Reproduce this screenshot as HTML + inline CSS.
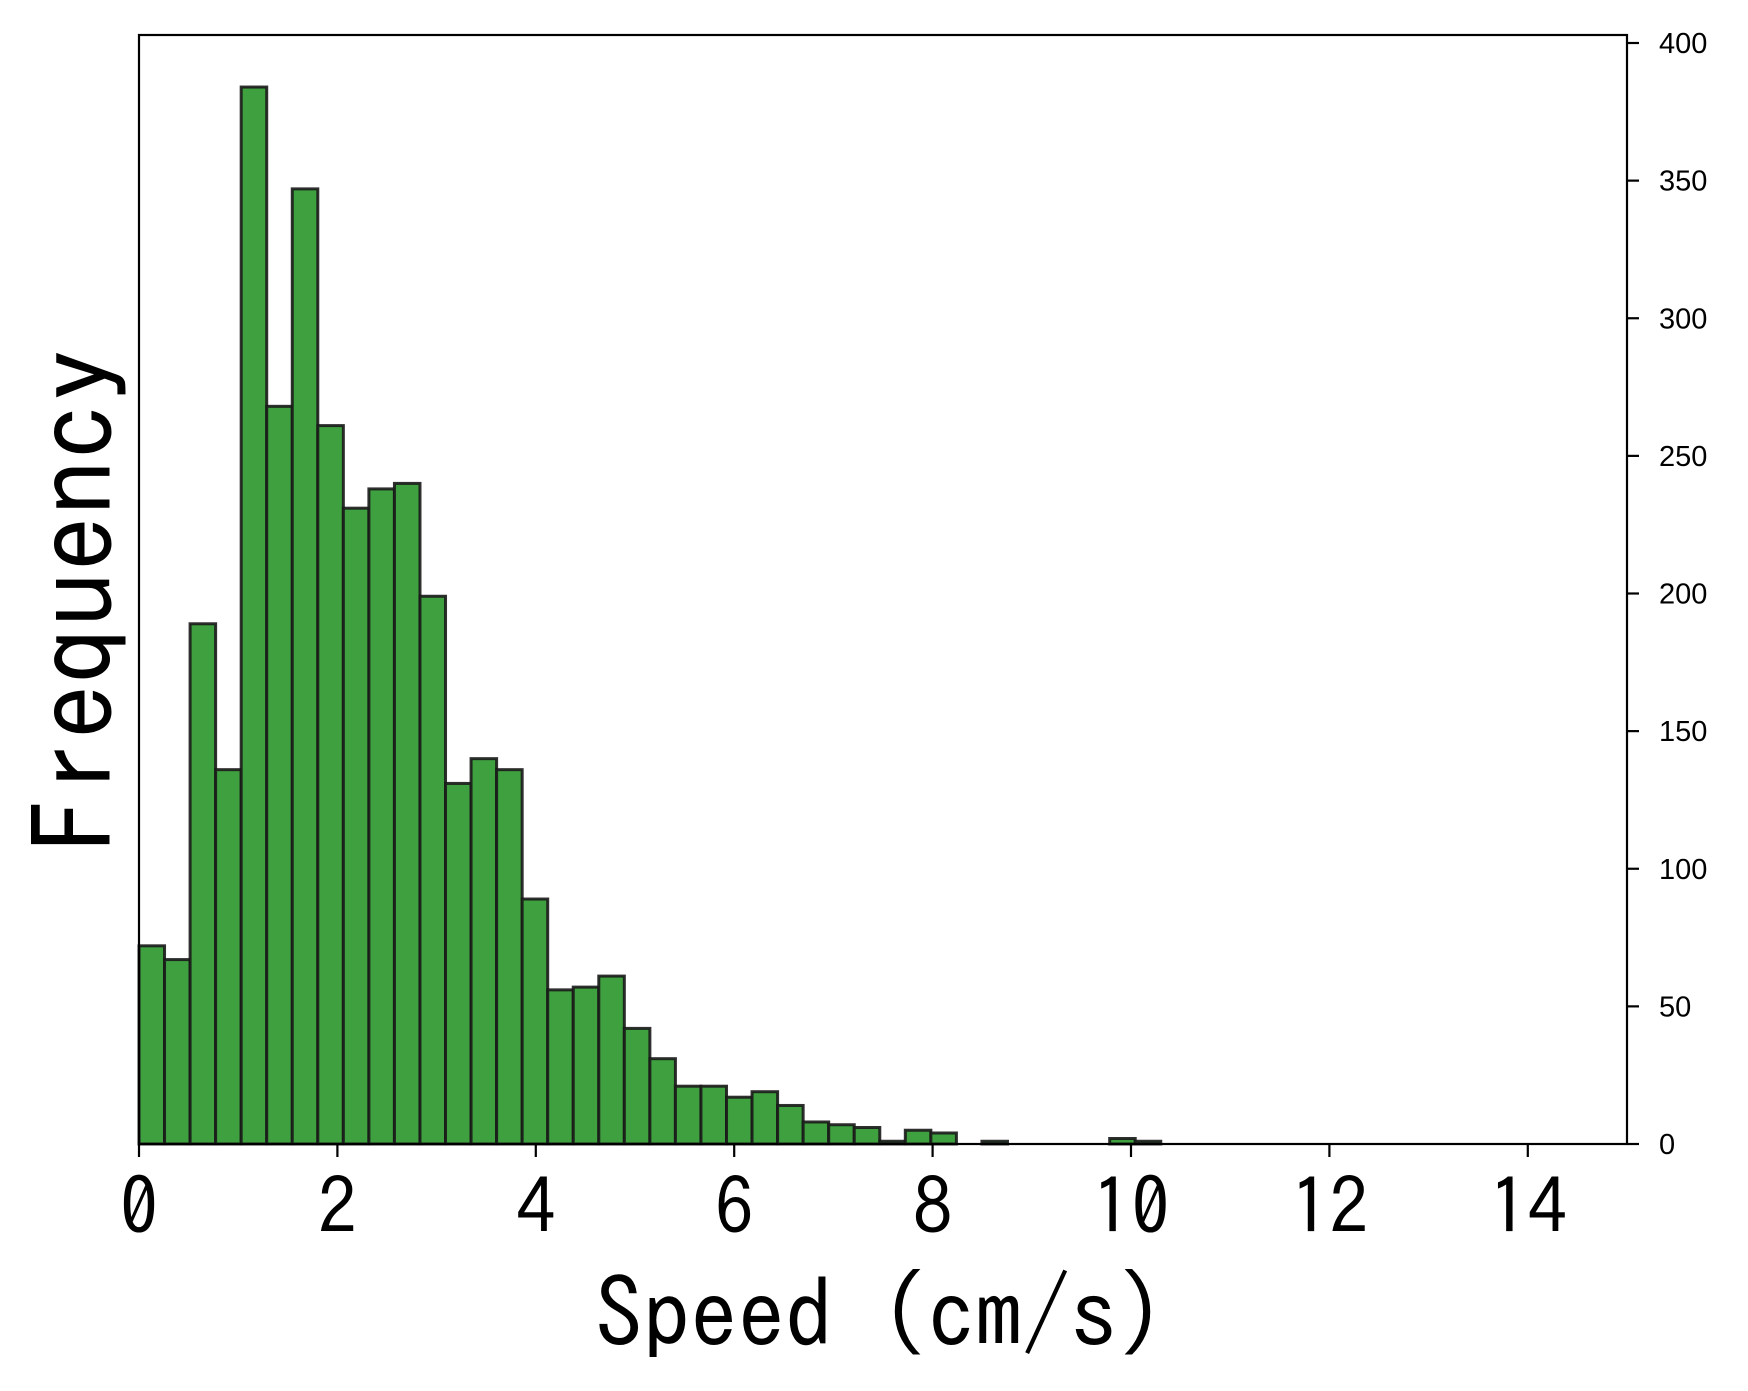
<!DOCTYPE html>
<html><head><meta charset="utf-8"><style>
html,body{margin:0;padding:0;background:#fff;}
svg text{font-family:"IPAGothic","Liberation Sans",sans-serif;fill:#000;}
svg text.rt{font-family:"Liberation Sans",sans-serif;}
</style></head><body>
<svg id="chart" width="1748" height="1386" viewBox="0 0 1748 1386" xmlns="http://www.w3.org/2000/svg"></svg>
<script>
const counts = [72,67,189,136,384,268,347,261,231,238,240,199,131,140,136,89,56,57,61,42,31,21,21,17,19,14,8,7,6,1,5,4,0,1,0,0,0,0,2,1];
const binStart = 0;
const binWidth = 10.3/40;
const xTicks = [0,2,4,6,8,10,12,14];
const yTicks = [0,50,100,150,200,250,300,350,400];

const L=139,R=1627,T=35,B=1144;
const xMax=15, yPerUnit=(1144-43)/400;
const sx=v=>L+(v/xMax)*(R-L);
const sy=v=>B-v*yPerUnit;
const NS='http://www.w3.org/2000/svg';
const svg=document.getElementById('chart');
function mk(tag,attrs){const e=document.createElementNS(NS,tag);for(const k in attrs)e.setAttribute(k,attrs[k]);svg.appendChild(e);return e;}

counts.forEach((c,i)=>{
  if(c<=0) return;
  const x0=sx(binStart+i*binWidth), x1=sx(binStart+(i+1)*binWidth);
  const r=mk('rect',{x:x0,y:sy(c),width:x1-x0,height:sy(0)-sy(c),fill:'#3fa03f',stroke:'#1a1a1a','stroke-width':3,'stroke-opacity':0.9});
  
  
});

const frame=mk('rect',{x:L,y:T,width:R-L,height:B-T,fill:'none',stroke:'#000','stroke-width':2.2});



xTicks.forEach(v=>{
  const x=sx(v);
  const t=mk('line',{x1:x,y1:B,x2:x,y2:B+13,stroke:'#000','stroke-width':2.2});
  
  
  const l=mk('text',{x:x,y:B+91,'font-size':78,'text-anchor':'middle'});
  l.textContent=v;
  
  
});
yTicks.forEach(v=>{
  const y=sy(v);
  const t=mk('line',{x1:R,y1:y,x2:R+12,y2:y,stroke:'#000','stroke-width':2.2});
  
  
  const l=mk('text',{x:R+32,y:y+10,'font-size':29,'class':'rt'});
  l.textContent=v;
  
  
});
const xt=mk('text',{x:880,y:1348,'font-size':95,'text-anchor':'middle'});
xt.textContent='Speed (cm/s)';


const yt=mk('text',{x:0,y:0,'font-size':112,'text-anchor':'middle',transform:'translate(115,600) rotate(-90)'});
yt.textContent='Frequency';


</script>
</body></html>
